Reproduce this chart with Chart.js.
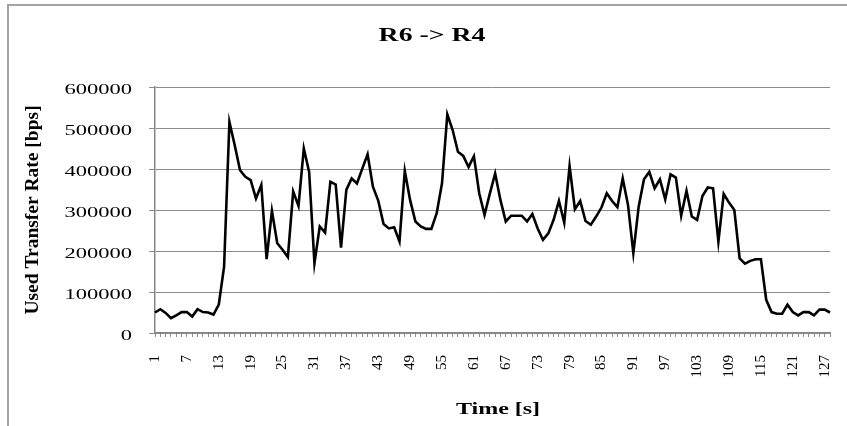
<!DOCTYPE html>
<html>
<head>
<meta charset="utf-8">
<script src="https://cdn.jsdelivr.net/npm/chart.js@4.4.0/dist/chart.umd.min.js"></script>
<style>
html, body { margin: 0; padding: 0; background: #fff; overflow: hidden; }
#wrap { position: relative; width: 847px; height: 426px; overflow: hidden; }
#frame { position: absolute; left: 7px; top: 4px; width: 900px; height: 500px;
         border-left: 2px solid #a3a3a3; border-top: 2px solid #a3a3a3; }
canvas { position: absolute; left: 0; top: 0; }
</style>
</head>
<body>
<div id="wrap"><div id="frame"></div><canvas id="chart" width="847" height="426"></canvas></div>
<script>
// time in seconds
const times = [
  1, 2, 3, 4, 5, 6, 7, 8, 9, 10, 11, 12, 13, 14, 15, 16, 17, 18, 19, 20,
  21, 22, 23, 24, 25, 26, 27, 28, 29, 30, 31, 32, 33, 34, 35, 36, 37, 38, 39, 40,
  41, 42, 43, 44, 45, 46, 47, 48, 49, 50, 51, 52, 53, 54, 55, 56, 57, 58, 59, 60,
  61, 62, 63, 64, 65, 66, 67, 68, 69, 70, 71, 72, 73, 74, 75, 76, 77, 78, 79, 80,
  81, 82, 83, 84, 85, 86, 87, 88, 89, 90, 91, 92, 93, 94, 95, 96, 97, 98, 99, 100,
  101, 102, 103, 104, 105, 106, 107, 108, 109, 110, 111, 112, 113, 114, 115, 116, 117, 118, 119, 120,
  121, 122, 123, 124, 125, 126, 127, 128
];

// used transfer rate, bps
const rate = [
  50000, 58000, 49000, 36000, 43000, 51000, 51000, 40000, 58000, 51000,
  50000, 45000, 69000, 162000, 515000, 458000, 397000, 381000, 373000, 328000,
  361000, 180000, 298000, 219000, 203000, 185000, 345000, 310000, 450000, 393000,
  170000, 260000, 245000, 369000, 362000, 208000, 349000, 377000, 365000, 401000,
  436000, 357000, 323000, 266000, 255000, 258000, 223000, 395000, 324000, 272000,
  260000, 254000, 254000, 292000, 365000, 533000, 495000, 442000, 432000, 405000,
  431000, 341000, 288000, 340000, 389000, 324000, 272000, 286000, 286000, 286000,
  272000, 290000, 255000, 227000, 243000, 276000, 322000, 269000, 407000, 302000,
  322000, 273000, 264000, 284000, 306000, 341000, 322000, 307000, 377000, 312000,
  195000, 308000, 375000, 393000, 353000, 375000, 326000, 387000, 379000, 286000,
  347000, 284000, 276000, 334000, 355000, 353000, 223000, 339000, 318000, 300000,
  182000, 169000, 176000, 180000, 180000, 81000, 51000, 47000, 47000, 69000,
  51000, 43000, 51000, 51000, 43000, 57000, 57000, 50000
];

const titleText = 'R6 -> R4';
const xTitle = 'Time [s]';
const yTitle = 'Used Transfer Rate [bps]';

const FONT = '"Liberation Serif", "Times New Roman", serif';
const GRID = '#8c8c8c';

// the picture is stretched sideways, so horizontal text is drawn wider here
const stretchText = {
  id: 'stretchText',
  afterDraw(chart) {
    const ctx = chart.ctx;
    const ys = chart.scales.y;
    const draw = (txt, x, y, font, align, base) => {
      ctx.save();
      ctx.font = font;
      ctx.textAlign = align;
      ctx.textBaseline = base;
      ctx.fillStyle = '#000';
      ctx.translate(x, y);
      ctx.scale(1.5, 1);
      ctx.fillText(txt, 0, 0);
      ctx.restore();
    };
    ys.ticks.forEach((t, i) => {
      draw(String(t.value), 132, ys.getPixelForTick(i) + 3, '15px ' + FONT, 'right', 'middle');
    });
    draw(titleText, 432, 41, 'bold 18.5px ' + FONT, 'center', 'alphabetic');
    draw(xTitle, 498, 414, 'bold 16px ' + FONT, 'center', 'alphabetic');
  }
};

const chart = new Chart(document.getElementById('chart'), {
  type: 'line',
  data: {
    labels: times,
    datasets: [{
      data: rate,
      borderColor: '#000',
      borderWidth: 2.6,
      pointRadius: 0,
      tension: 0,
      fill: false
    }]
  },
  options: {
    responsive: false,
    animation: false,
    layout: { padding: { left: 18, right: 17, top: 87, bottom: 0 } },
    plugins: {
      legend: { display: false },
      title: { display: false },
      tooltip: { enabled: false }
    },
    scales: {
      x: {
        type: 'category',
        offset: false,
        // fixed height, and no extra room for the rotated end labels
        afterFit: (s) => { s.height = 93; s.paddingRight = 0; s.paddingLeft = 0; },
        grid: { drawOnChartArea: false, drawTicks: true, tickLength: 4, color: GRID },
        border: { color: '#868686', width: 1.5 },
        ticks: {
          autoSkip: false,
          minRotation: 90,
          maxRotation: 90,
          padding: 18,
          color: '#000',
          font: { family: FONT, size: 15 },
          callback: function (val, idx) { return idx % 6 === 0 ? this.getLabelForValue(val) : ''; }
        }
      },
      y: {
        min: 0,
        max: 600000,
        afterFit: (s) => { s.width = 137; },
        grid: { color: GRID, lineWidth: 1, tickLength: 6 },
        border: { color: '#868686', width: 1.5 },
        // labels are painted by stretchText, keep these invisible
        ticks: { stepSize: 100000, color: 'rgba(0,0,0,0)', callback: (v) => String(v) },
        title: {
          display: true,
          text: yTitle,
          color: '#000',
          padding: { top: 3, bottom: 0 },
          font: { family: FONT, size: 19.5, weight: 'bold' }
        }
      }
    }
  },
  plugins: [stretchText]
});

// one more paint on the canvas after the first render; the thin grid lines
// only came through in the snapshot when something was drawn afterwards
const ctx = chart.ctx;
ctx.save();
ctx.font = '12px sans-serif';
ctx.fillStyle = '#fff';
ctx.fillText('.', 838, 422);
ctx.restore();
</script>
</body>
</html>
